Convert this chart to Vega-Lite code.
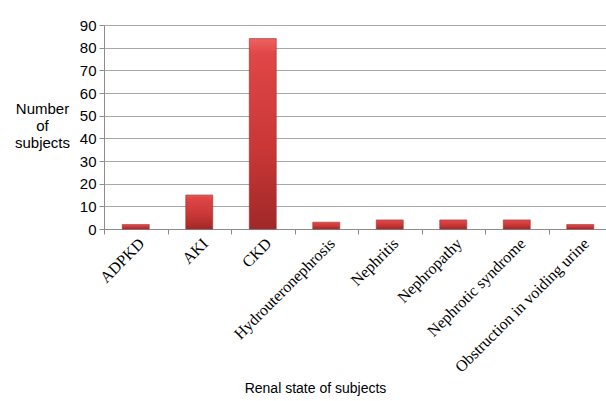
{
  "$schema": "https://vega.github.io/schema/vega-lite/v6.json",
  "width": 502,
  "height": 204,
  "autosize": {"type": "none"},
  "padding": {"left": 104, "top": 25, "right": 0, "bottom": 172},
  "background": "white",
  "data": {"values": [
    {"state": "ADPKD", "n": 2},
    {"state": "AKI", "n": 15},
    {"state": "CKD", "n": 84},
    {"state": "Hydrouteronephrosis", "n": 3},
    {"state": "Nephritis", "n": 4},
    {"state": "Nephropathy", "n": 4},
    {"state": "Nephrotic syndrome", "n": 4},
    {"state": "Obstruction in voiding urine", "n": 2}
  ]},
  "mark": {
    "type": "bar",
    "width": {"band": 0.425},
    "stroke": "#9a3030",
    "strokeWidth": 0.6,
    "color": {"gradient": "linear", "x1": 0, "y1": 0, "x2": 0, "y2": 1,
      "stops": [
        {"offset": 0, "color": "#ee6262"},
        {"offset": 0.08, "color": "#e04646"},
        {"offset": 0.6, "color": "#c83636"},
        {"offset": 1, "color": "#a02828"}
      ]}
  },
  "encoding": {
    "x": {
      "field": "state", "type": "nominal", "sort": null,
      "scale": {"paddingInner": 0, "paddingOuter": 0, "range": [0, 508]},
      "axis": {
        "title": "Renal state of subjects",
        "titleFont": "Liberation Sans", "titleFontSize": 14, "titleFontWeight": "normal", "titleColor": "black",
        "titleX": 211, "titleY": 163, "titleAlign": "center", "titleBaseline": "alphabetic",
        "labelAngle": -45, "labelFont": "Liberation Serif", "labelFontSize": 16, "labelColor": "black",
        "labelPadding": 1, "labelLimit": 300,
        "tickBand": "extent", "ticks": true, "tickSize": 5, "tickColor": "#8c8c8c",
        "domainColor": "#8c8c8c", "grid": false
      }
    },
    "y": {
      "field": "n", "type": "quantitative",
      "scale": {"domain": [0, 90], "nice": false},
      "axis": {
        "title": ["Number", "of", "subjects"],
        "titleFont": "Liberation Sans", "titleFontSize": 15, "titleFontWeight": "normal", "titleColor": "black",
        "titleAngle": 0, "titleX": -62, "titleY": 83, "titleAlign": "center", "titleBaseline": "middle",
        "titleLineHeight": 17,
        "values": [0, 10, 20, 30, 40, 50, 60, 70, 80, 90],
        "labelFont": "Liberation Sans", "labelFontSize": 15, "labelColor": "black", "labelPadding": 3,
        "tickSize": 5, "tickColor": "#8c8c8c", "domainColor": "#8c8c8c",
        "grid": true, "gridColor": "#a8a8a8", "gridWidth": 1.2
      }
    }
  },
  "config": {"view": {"stroke": null}}
}
